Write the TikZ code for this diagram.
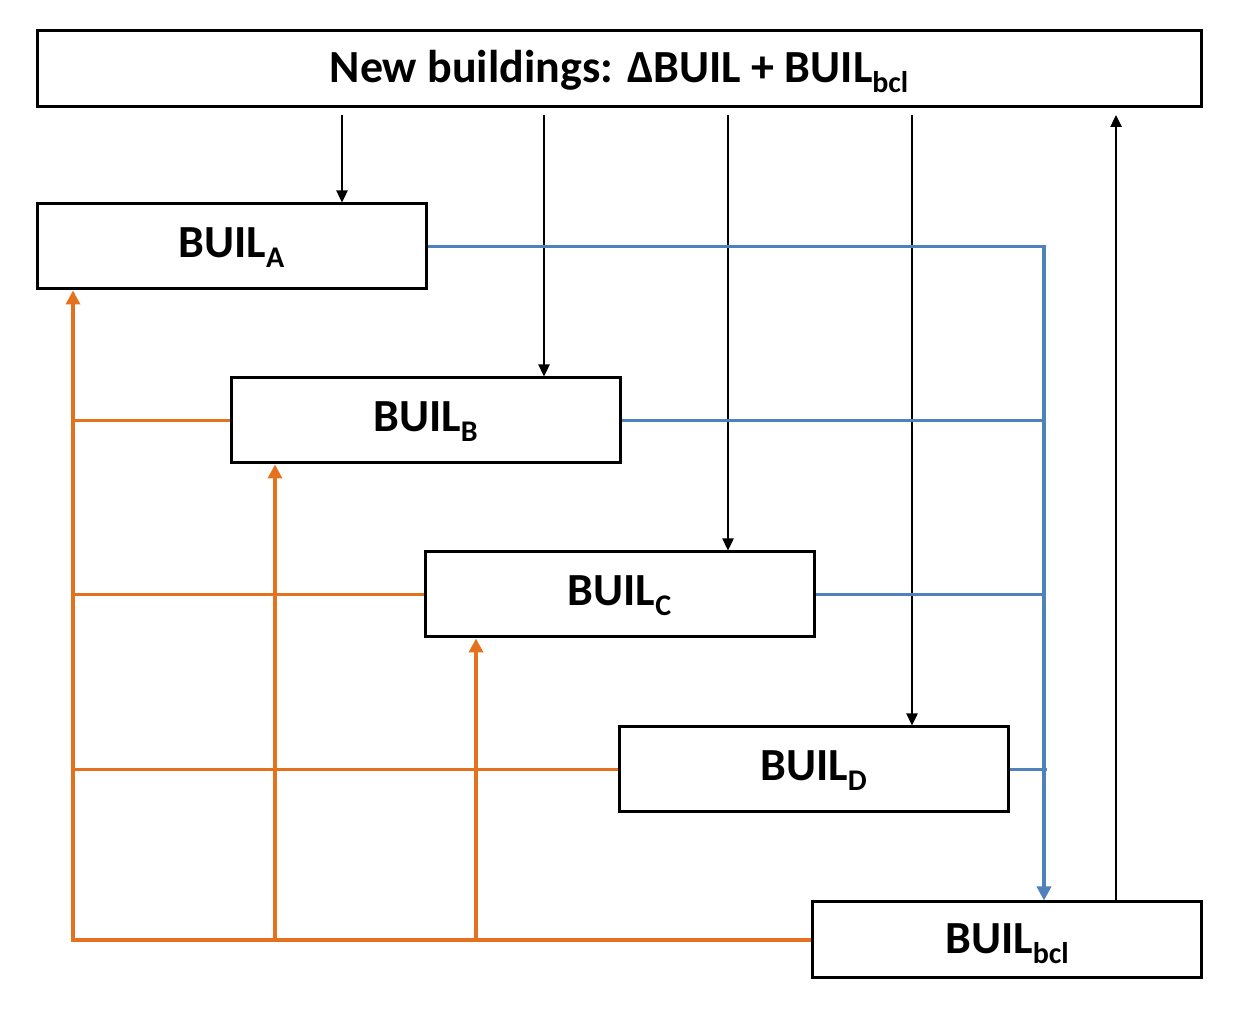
\documentclass[tikz,border=0pt]{standalone}
\usepackage{fontspec}
\setmainfont{Carlito}
\usetikzlibrary{arrows.meta}
\definecolor{lineblue}{RGB}{79,129,189}
\definecolor{lineorange}{RGB}{228,113,30}
\newcommand\subx[1]{\raisebox{-0.45ex}{\fontsize{15}{15}\selectfont #1}}
\tikzset{
  box/.style={draw=black, line width=1.5pt, fill=white, minimum width=194.5pt, minimum height=42.5pt, inner sep=0pt, text height=17pt, text depth=5.7pt, font=\fontsize{23}{26}\selectfont\bfseries},
  flatbox/.style={box, minimum height=38pt, text height=17pt, text depth=3.2pt},
  blk/.style={draw=black, line width=1.2pt, -{Triangle[length=6pt,width=5.5pt]}},
  blu/.style={draw=lineblue, line width=1.7pt},
  org/.style={draw=lineorange, line width=1.7pt},
  bluarr/.style={blu, -{Triangle[length=7pt,width=7pt]}},
  orgarr/.style={org, -{Triangle[length=7pt,width=7pt]}}
}
\begin{document}
\begin{tikzpicture}[x=0.5pt,y=-0.5pt]
\useasboundingbox (0,0) rectangle (1238,1020);
\node[flatbox, minimum width=582pt] (top) at (619,69) {New buildings: ΔBUIL + BUIL\subx{bcl}};
\node[box] (A) at (231.5,246.5) {BUIL\subx{A}};
\node[box] (B) at (425.5,420.5) {BUIL\subx{B}};
\node[box] (C) at (619.5,594.5) {BUIL\subx{C}};
\node[box] (D) at (813.5,769.5) {BUIL\subx{D}};
\node[flatbox] (bcl) at (1007,940) {BUIL\subx{bcl}};
% helper coordinates
\coordinate (sA) at (342,115);
\coordinate (sB) at (544,115);
\coordinate (sC) at (728,115);
\coordinate (sD) at (912,115);
\coordinate (eU) at (1116,115);
\coordinate (bx) at (1044,0);
\coordinate (ox) at (73,0);
\coordinate (o2) at (275,0);
\coordinate (o3) at (476,0);
% black arrows
\draw[blk] (sA) -- (sA |- A.north);
\draw[blk] (sB) -- (sB |- B.north);
\draw[blk] (sC) -- (sC |- C.north);
\draw[blk] (sD) -- (sD |- D.north);
\draw[blk] (eU |- bcl.north) -- (eU);
% blue lines
\draw[bluarr] (A.east) -| (bx |- bcl.north);
\draw[blu] (B.east) -- (B.east -| bx);
\draw[blu] (C.east) -- (C.east -| bx);
\draw[blu] (D.east) -- ([xshift=1.5pt]D.east -| bx);
% orange lines
\draw[orgarr] (bcl.west) -| (ox |- A.south);
\draw[org] (B.west) -- (B.west -| ox);
\draw[org] (C.west) -- (C.west -| ox);
\draw[org] (D.west) -- (D.west -| ox);
\draw[orgarr] (o2 |- bcl.west) -- (o2 |- B.south);
\draw[orgarr] (o3 |- bcl.west) -- (o3 |- C.south);
\end{tikzpicture}
\end{document}
